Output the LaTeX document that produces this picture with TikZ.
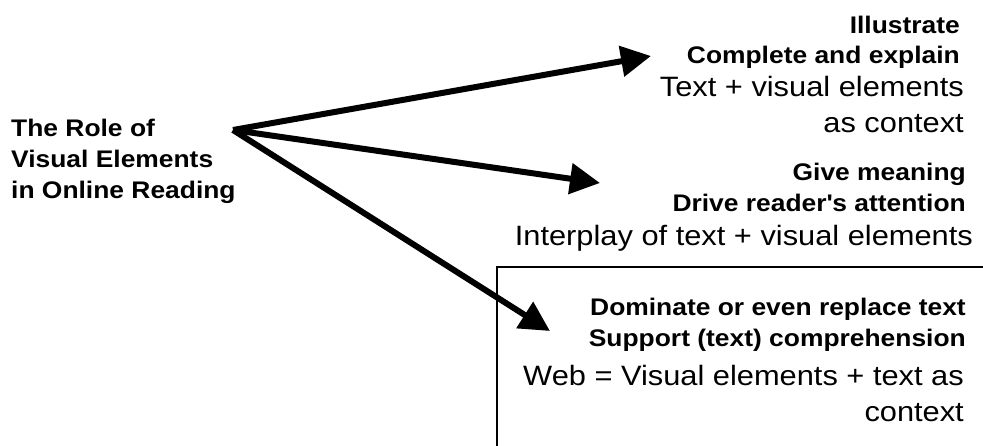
\documentclass[tikz,border=0pt]{standalone}
\usepackage{fontspec}
\setmainfont{Liberation Sans}[FakeStretch=1.1]
\usetikzlibrary{arrows.meta}

\tikzset{
  headline/.style={font=\bfseries\fontsize{24}{31}\selectfont, anchor=base east, inner sep=0pt},
  plainline/.style={font=\fontsize{28}{36}\selectfont, anchor=base east, inner sep=0pt},
  bigarrow/.style={line width=6pt, -{Triangle[length=30pt,width=30pt]}}
}

\begin{document}
\begin{tikzpicture}[x=1pt, y=-1pt]
  \useasboundingbox (0,0) rectangle (983,446);

  % frame round the last group
  \draw[line width=2pt] (1000,267) -- (497,267) -- (497,460);

  % title on the left (base = last line)
  \node[font=\bfseries\fontsize{24}{31}\selectfont, anchor=base west, inner sep=0pt,
        align=left] (role) at (11,199) {The Role of\\Visual Elements\\in Online Reading};

  % first group
  \node[headline] (ill)  at (960,34) {Illustrate};
  \node[headline] (cmpl) at (960,64) {Complete and explain};
  \node[plainline] (txtvis) at (964,97) {Text + visual elements};
  \node[plainline] (ascon)  at (964,133) {as context};

  % second group
  \node[headline] (give)  at (966,181) {Give meaning};
  \node[headline] (drive) at (966,212) {Drive reader\textquotesingle s attention};
  \node[plainline] (inter) at (973,246) {Interplay of text + visual elements};

  % third group
  \node[headline] (dom)  at (966,316) {Dominate or even replace text};
  \node[headline] (supp) at (966,347) {Support (text) comprehension};
  \node[plainline] (web) at (964,385) {Web = Visual elements + text as};
  \node[plainline] (ctx) at (964,421) {context};

  % arrows
  \coordinate (hub) at (233,130);
  \coordinate (tipA) at (651,56);
  \coordinate (tipB) at (600,183);
  \coordinate (tipC) at (550,331);
  \draw[bigarrow] (hub) -- (tipA);
  \draw[bigarrow] (hub) -- (tipB);
  \draw[bigarrow] (hub) -- (tipC);
\end{tikzpicture}
\end{document}
